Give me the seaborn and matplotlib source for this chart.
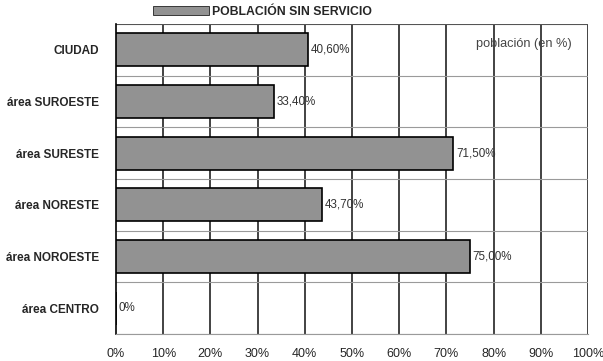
import matplotlib
matplotlib.use("Agg")
import matplotlib.pyplot as plt
import seaborn as sns
import pandas as pd
from matplotlib.patches import Patch

categories = ["CIUDAD", "área SUROESTE", "área SURESTE", "área NORESTE", "área NOROESTE", "área CENTRO"]
values = [40.6, 33.4, 71.5, 43.7, 75.0, 0.0]
value_labels = ["40,60%", "33,40%", "71,50%", "43,70%", "75,00%", "0%"]
x_ticks = [0, 10, 20, 30, 40, 50, 60, 70, 80, 90, 100]
x_tick_labels = [f"{t}%" for t in x_ticks]
legend_label = "POBLACIÓN SIN SERVICIO"
note = "población (en %)"

sns.set_style("white")
plt.rcParams["font.family"] = ["Liberation Sans", "DejaVu Sans"]

df = pd.DataFrame({"cat": categories, "val": values})

fig = plt.figure(figsize=(6.03, 3.61), dpi=100)
L, R, T, B = 116, 588, 24, 334
ax = fig.add_axes([L/603, 1-B/361, (R-L)/603, (B-T)/361])

bar_color = "#929292"
sns.barplot(data=df, x="val", y="cat", order=categories, orient="h",
            color=bar_color, saturation=1, width=0.64, ax=ax,
            edgecolor="black", linewidth=1.2, zorder=3)

ax.set_xlim(0, 100)
ax.set_ylim(5.5, -0.5)
ax.set_xticks(x_ticks)
ax.set_xticklabels(x_tick_labels, fontsize=9)
ax.set_xlabel("")
ax.set_ylabel("")
ax.set_yticks(range(len(categories)))
ax.set_yticklabels(categories, fontsize=8.5, fontweight="bold")
ax.tick_params(axis="y", length=0, pad=12)
ax.tick_params(axis="x", length=0, pad=10)
ax.set_yticks([i - 0.5 for i in range(len(categories) + 1)], minor=True)
ax.tick_params(axis="y", which="minor", length=4, width=1.2, color="black", direction="out")

for x in x_ticks[1:]:
    ax.axvline(x, color="#222222", lw=1.2, zorder=1)
for y in [i + 0.5 for i in range(len(categories))]:
    ax.axhline(y, color="#9a9a9a", lw=0.8, zorder=1)

for s in ["top", "right"]:
    ax.spines[s].set_visible(False)
ax.spines["left"].set_color("black")
ax.spines["left"].set_linewidth(1.2)
ax.spines["bottom"].set_color("#9a9a9a")
ax.spines["bottom"].set_linewidth(0.8)
ax.axhline(-0.5, color="#555555", lw=0.8, zorder=1)

for i, (v, lab) in enumerate(zip(values, value_labels)):
    ax.text(v + 0.6, i, lab, va="center", ha="left", fontsize=8.4, color="#333333", zorder=4)

ax.text(96.5, -0.12, note, ha="right", va="center", fontsize=9.2, color="#444444", zorder=4)

handles = [Patch(facecolor=bar_color, edgecolor="black", linewidth=0.5)]
fig.legend(handles, [legend_label], loc="center left", bbox_to_anchor=(153/603, 1-12/361),
           frameon=False, prop={"weight": "bold", "size": 8.8},
           handlelength=4.6, handleheight=0.7, handletextpad=0.2, borderaxespad=0, borderpad=0)

fig.savefig("out.png", dpi=100)
